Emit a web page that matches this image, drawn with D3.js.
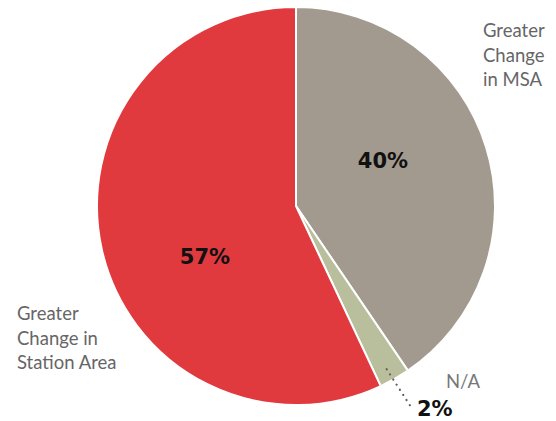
<!DOCTYPE html>
<html><head><meta charset="utf-8">
<script src="https://cdn.jsdelivr.net/npm/d3@7"></script>
<style>body{margin:0;background:#fff}svg{display:block}</style>
</head><body>
<script>
const categories = ["Greater Change in MSA", "N/A", "Greater Change in Station Area"];
const values = [40.5, 2.5, 57.0];
const valueLabels = ["40%", "2%", "57%"];
const colors = ["#a39a8f", "#b9bf9c", "#e03a3f"];

const W = 556, H = 421, cx = 296, cy = 206, R = 199;
const svg = d3.select("body").append("svg").attr("width", W).attr("height", H);
const g = svg.append("g").attr("transform", `translate(${cx},${cy})`);
const pie = d3.pie().sort(null).value(d => d)(values);
const arc = d3.arc().innerRadius(0).outerRadius(R);
g.selectAll("path").data(pie).join("path")
  .attr("d", arc).attr("fill", (d, i) => colors[i])
  .attr("stroke", "#fff").attr("stroke-width", 2).attr("stroke-linejoin", "round");

const font = "Lato, 'Open Sans', sans-serif";
const bold = "'DejaVu Sans', sans-serif";
const inner = [{i:0, x:383, y:168}, {i:2, x:205, y:264}];
inner.forEach(p => {
  svg.append("text").attr("x", p.x).attr("y", p.y).attr("text-anchor", "middle")
    .attr("font-family", bold).attr("font-weight", 700).attr("font-size", 21)
    .attr("fill", "#111").text(valueLabels[p.i]);
});
const mid = (pie[1].startAngle + pie[1].endAngle) / 2;
const sx = cx + Math.sin(mid) * (R - 18), sy = cy - Math.cos(mid) * (R - 18);
svg.append("line").attr("x1", sx + 1).attr("y1", sy + 6).attr("x2", 411).attr("y2", 407)
  .attr("stroke", "#6b5e50").attr("stroke-width", 2.2).attr("stroke-dasharray", "0.1 6")
  .attr("stroke-linecap", "round");
svg.append("text").attr("x", 417).attr("y", 416)
  .attr("font-family", bold).attr("font-weight", 700).attr("font-size", 21)
  .attr("fill", "#111").text(valueLabels[1]);
svg.append("text").attr("x", 446).attr("y", 388)
  .attr("font-family", font).attr("font-size", 18.5).attr("fill", "#777").text(categories[1]);

function multi(lines, x, y0, lh) {
  const t = svg.append("text").attr("font-family", font).attr("font-size", 18.5).attr("fill", "#666");
  lines.forEach((l, k) => t.append("tspan").attr("x", x).attr("y", y0 + k * lh).text(l));
}
multi(["Greater", "Change", "in MSA"], 483, 37, 24.5);
multi(["Greater", "Change in", "Station Area"], 17, 320, 24.5);
</script>
</body></html>
